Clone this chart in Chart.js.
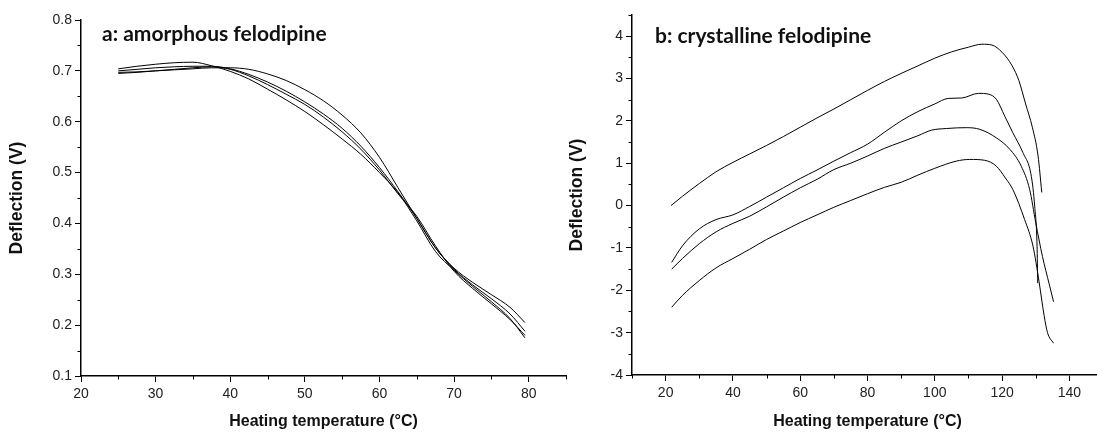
<!DOCTYPE html>
<html>
<head>
<meta charset="utf-8">
<script src="https://cdn.jsdelivr.net/npm/chart.js@4.4.0/dist/chart.umd.min.js"></script>
<style>
  html, body { margin: 0; padding: 0; background: #fff; overflow: hidden; }
  body { width: 1097px; height: 434px; position: relative; }
  .panel { position: absolute; top: 0; }
  #wrapA { left: 0; }
  #wrapB { left: 560px; }
</style>
</head>
<body>
<div class="panel" id="wrapA"><canvas id="chartA" width="572" height="434"></canvas></div>
<div class="panel" id="wrapB"><canvas id="chartB" width="560" height="434"></canvas></div>
<script>
// panel a: amorphous felodipine, four heating runs on a shared temperature grid
const amorphTemp = [25, 27.5, 30, 32.5, 35, 37.5, 40, 42.5, 45, 47.5, 50, 52.5, 55, 57.5, 60, 62.5, 65, 67.5, 70, 72.5, 75, 77.5, 79.5];
const amorph1 = [0.697, 0.698, 0.700, 0.702, 0.704, 0.706, 0.706, 0.703, 0.694, 0.681, 0.663, 0.641, 0.613, 0.578, 0.530, 0.470, 0.410, 0.352, 0.312, 0.284, 0.260, 0.235, 0.205];
const amorph2 = [0.704, 0.709, 0.713, 0.716, 0.717, 0.710, 0.699, 0.684, 0.664, 0.643, 0.620, 0.594, 0.566, 0.536, 0.500, 0.460, 0.405, 0.345, 0.308, 0.276, 0.246, 0.213, 0.175];
const amorph3 = [0.700, 0.703, 0.706, 0.708, 0.709, 0.709, 0.704, 0.693, 0.678, 0.660, 0.639, 0.615, 0.587, 0.552, 0.510, 0.462, 0.410, 0.352, 0.310, 0.279, 0.252, 0.222, 0.188];
const amorph4 = [0.695, 0.697, 0.700, 0.703, 0.706, 0.708, 0.703, 0.690, 0.673, 0.654, 0.634, 0.609, 0.580, 0.546, 0.505, 0.458, 0.414, 0.356, 0.306, 0.272, 0.242, 0.211, 0.180];

// panel b: crystalline felodipine, each run has its own temperature readings
const crystTemp1 = [21.6, 25, 30, 35, 40, 45, 50, 55, 60, 65, 70, 75, 80, 85, 90, 95, 100, 105, 110, 114, 117, 120, 123, 125, 127, 129, 130.7, 131.8];
const crystDefl1 = [0.0, 0.22, 0.52, 0.8, 1.02, 1.22, 1.42, 1.63, 1.85, 2.07, 2.28, 2.5, 2.72, 2.93, 3.12, 3.3, 3.48, 3.63, 3.74, 3.81, 3.79, 3.62, 3.3, 2.95, 2.4, 1.85, 1.17, 0.31];
const crystTemp2 = [21.8, 25, 30, 35, 40, 45, 50, 55, 60, 65, 70, 75, 80, 85, 90, 95, 100, 104, 108, 113, 116, 118.3, 120.8, 123.2, 126.2, 128.7, 129.7, 130.4, 130.6];
const crystDefl2 = [-1.34, -0.95, -0.55, -0.33, -0.22, -0.02, 0.2, 0.42, 0.64, 0.84, 1.05, 1.25, 1.45, 1.73, 2.0, 2.22, 2.4, 2.53, 2.54, 2.65, 2.63, 2.51, 2.11, 1.72, 1.25, 0.69, -0.02, -0.96, -1.83];
const crystTemp3 = [21.8, 25, 30, 35, 40, 45, 50, 55, 60, 65, 70, 75, 80, 85, 90, 95, 99, 103.5, 109.4, 113.4, 118.3, 122.3, 125.7, 128.2, 130, 132, 134, 135.3];
const crystDefl3 = [-1.5, -1.25, -0.9, -0.62, -0.42, -0.25, -0.03, 0.2, 0.42, 0.62, 0.85, 1.0, 1.17, 1.35, 1.5, 1.65, 1.78, 1.82, 1.84, 1.8, 1.6, 1.33, 0.93, 0.38, -0.4, -1.2, -1.85, -2.27];
const crystTemp4 = [21.8, 25, 30, 35, 40, 45, 50, 55, 60, 65, 70, 75, 80, 85, 90, 95, 100, 106.4, 110.4, 114.8, 118.3, 121, 123.2, 126.7, 129.2, 131, 132.5, 133.5, 135.3];
const crystDefl4 = [-2.4, -2.12, -1.77, -1.47, -1.25, -1.03, -0.8, -0.6, -0.4, -0.22, -0.04, 0.12, 0.28, 0.43, 0.55, 0.72, 0.88, 1.05, 1.09, 1.07, 0.93, 0.65, 0.38, -0.33, -0.96, -1.8, -2.6, -3.0, -3.25];

const xTitle = 'Heating temperature (°C)';
const yTitle = 'Deflection (V)';

const sans = "'Liberation Sans', Arial, sans-serif";
const tickFont = { family: sans, size: 14 };
const xTitleFont = { family: sans, size: 16, weight: 'bold' };
const yTitleFont = { family: sans, size: 17.5, weight: 'bold' };

// writes the bold panel caption inside the plot area
const panelLabel = {
  id: 'panelLabel',
  afterDraw(chart, args, opts) {
    const { ctx, chartArea } = chart;
    ctx.save();
    ctx.font = opts.font;
    ctx.fillStyle = '#111';
    ctx.textBaseline = 'alphabetic';
    ctx.fillText(opts.text, chartArea.left + opts.dx, opts.baseline);
    ctx.restore();
  }
};

// unlabelled ticks get a shorter mark than the labelled ones
const minorTicks = {
  id: 'minorTicks',
  afterDraw(chart) {
    const { ctx, chartArea } = chart;
    ctx.save();
    ctx.strokeStyle = '#000';
    ctx.lineWidth = 1;
    ctx.beginPath();
    chart.scales.x.ticks.forEach(t => {
      if (t.label !== '') return;
      const px = Math.round(chart.scales.x.getPixelForValue(t.value)) + 0.5;
      ctx.moveTo(px, chartArea.bottom);
      ctx.lineTo(px, chartArea.bottom + 3.5);
    });
    chart.scales.y.ticks.forEach(t => {
      if (t.label !== '') return;
      const py = Math.round(chart.scales.y.getPixelForValue(t.value)) + 0.5;
      ctx.moveTo(chartArea.left, py);
      ctx.lineTo(chartArea.left - 3.5, py);
    });
    ctx.stroke();
    ctx.restore();
  }
};

function lineSet(xs, ys) {
  return {
    data: ys.map((y, i) => ({ x: xs[i], y: y })),
    borderColor: '#000',
    borderWidth: 1,
    pointRadius: 0,
    fill: false,
    cubicInterpolationMode: 'monotone'
  };
}

function axisStyle() {
  return {
    border: { display: true, color: '#000', width: 1.5 },
    grid: {
      display: true, drawOnChartArea: false, drawTicks: true, tickLength: 6, tickWidth: 1,
      tickColor: c => (c.tick && c.tick.label !== '' ? '#000' : 'rgba(0,0,0,0)')
    }
  };
}

const chartA = new Chart(document.getElementById('chartA'), {
  type: 'line',
  data: {
    datasets: [amorph1, amorph2, amorph3, amorph4].map(ys => lineSet(amorphTemp, ys))
  },
  options: {
    responsive: false,
    animation: false,
    layout: { padding: { left: 0, right: 6, top: 20, bottom: 0 } },
    plugins: {
      legend: { display: false },
      tooltip: { enabled: false },
      panelLabel: { text: 'a: amorphous felodipine', font: 'bold 21px Lato', dx: 21, baseline: 41 }
    },
    scales: {
      x: {
        type: 'linear', min: 20, max: 85,
        ...axisStyle(),
        ticks: {
          stepSize: 5, autoSkip: false, maxRotation: 0, padding: 4, color: '#222', font: tickFont,
          callback: v => (v % 10 === 0 ? v : '')
        },
        title: { display: true, text: xTitle, color: '#111', font: xTitleFont, padding: { top: 0, bottom: 3 } },
        afterFit: s => { s.height = 58; }
      },
      y: {
        type: 'linear', min: 0.1, max: 0.8,
        ...axisStyle(),
        ticks: {
          stepSize: 0.05, autoSkip: false, padding: 3, color: '#222', font: tickFont,
          callback: v => {
            const r = Math.round(v * 100);
            return r % 10 === 0 ? (r / 100).toFixed(1) : '';
          }
        },
        title: { display: true, text: yTitle, color: '#111', font: yTitleFont, padding: { top: 7, bottom: 0 } },
        afterFit: s => { s.width = 81; }
      }
    }
  },
  plugins: [panelLabel, minorTicks]
});

const chartB = new Chart(document.getElementById('chartB'), {
  type: 'line',
  data: {
    datasets: [
      lineSet(crystTemp1, crystDefl1),
      lineSet(crystTemp2, crystDefl2),
      lineSet(crystTemp3, crystDefl3),
      lineSet(crystTemp4, crystDefl4)
    ]
  },
  options: {
    responsive: false,
    animation: false,
    layout: { padding: { left: 0, right: 17, top: 15, bottom: 0 } },
    plugins: {
      legend: { display: false },
      tooltip: { enabled: false },
      panelLabel: { text: 'b: crystalline felodipine', font: 'bold 21px Lato', dx: 23, baseline: 43 }
    },
    scales: {
      x: {
        type: 'linear', min: 10, max: 150,
        ...axisStyle(),
        ticks: {
          stepSize: 10, autoSkip: false, maxRotation: 0, padding: 4, color: '#222', font: tickFont,
          callback: v => (v % 20 === 0 ? v : '')
        },
        title: { display: true, text: xTitle, color: '#111', font: xTitleFont, padding: { top: 0, bottom: 3 } },
        afterFit: s => { s.height = 59; }
      },
      y: {
        type: 'linear', min: -4, max: 4.5,
        ...axisStyle(),
        ticks: {
          stepSize: 0.5, autoSkip: false, padding: 3, color: '#222', font: tickFont,
          callback: v => (Number.isInteger(v) ? v : '')
        },
        title: { display: true, text: yTitle, color: '#111', font: yTitleFont, padding: { top: 7, bottom: 0 } },
        afterFit: s => { s.width = 72; }
      }
    }
  },
  plugins: [panelLabel, minorTicks]
});
</script>
</body>
</html>
